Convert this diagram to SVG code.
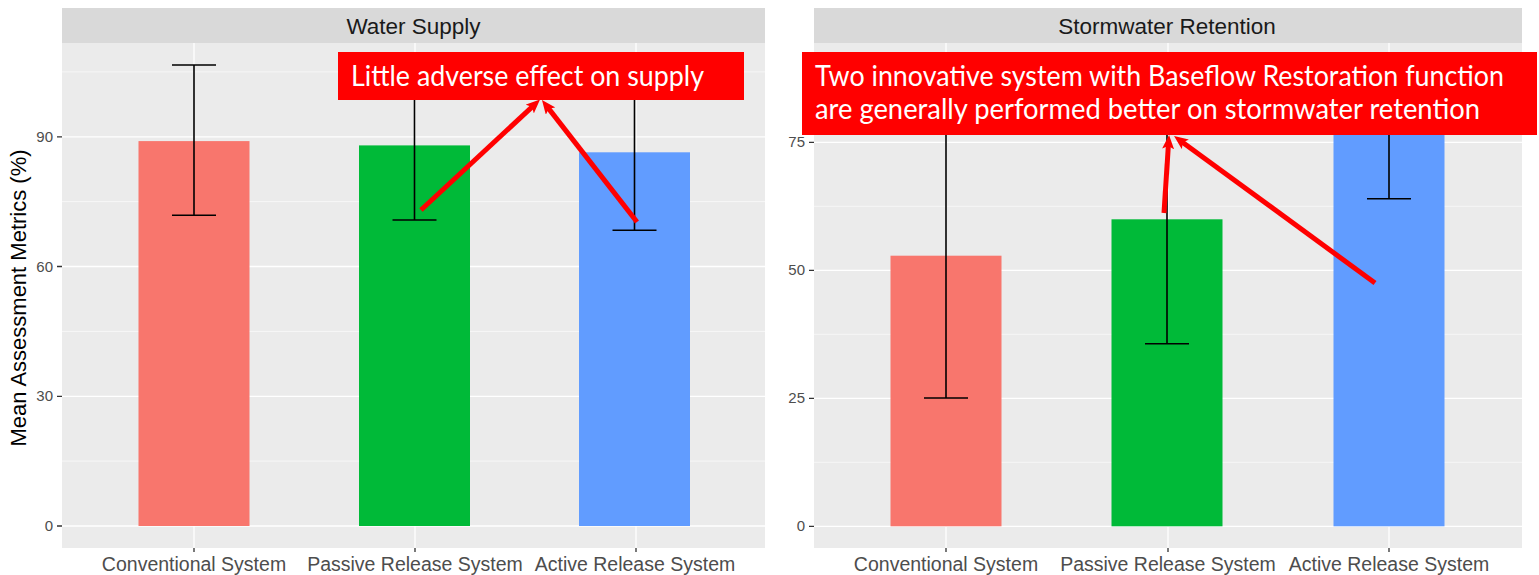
<svg xmlns="http://www.w3.org/2000/svg" width="1539" height="575" viewBox="0 0 1539 575">
<style>
.bg{fill:#EBEBEB}
.strip{fill:#D9D9D9}
.gmaj{stroke:#FFFFFF;stroke-width:1.3;fill:none}
.gmin{stroke:#FFFFFF;stroke-width:0.6;fill:none}
.tick{stroke:#333333;stroke-width:1.3}
.err{stroke:#000000;stroke-width:1.6;fill:none}
.ytxt{font-family:"Liberation Sans",Arial,sans-serif;font-size:15px;fill:#4D4D4D;text-anchor:end}
.xtxt{font-family:"Liberation Sans",Arial,sans-serif;font-size:19.5px;fill:#4D4D4D;text-anchor:middle}
.stxt{font-family:"Liberation Sans",Arial,sans-serif;font-size:22.5px;fill:#1A1A1A;text-anchor:middle}
.ctxt{font-family:Lato,"Open Sans",sans-serif;font-size:28px;fill:#FFFFFF}
.arrow{stroke:#FF0000;stroke-width:5;fill:none;marker-end:url(#ah)}
</style>
<defs>
<marker id="ah" viewBox="0 0 14 12" refX="4" refY="6" markerWidth="14" markerHeight="12" markerUnits="userSpaceOnUse" orient="auto">
<path d="M0,0 L14,6 L0,12 L3,6 z" fill="#FF0000"/>
</marker>
</defs>
<rect x="0" y="0" width="1539" height="575" fill="#FFFFFF"/>

<g id="yaxis-title">
<text transform="translate(26,298) rotate(-90)" font-family="'Liberation Sans',Arial,sans-serif" font-size="22" fill="#000000" text-anchor="middle">Mean Assessment Metrics (%)</text>
</g>

<g id="panel-water-supply">
<rect class="strip" x="62" y="8" width="703" height="35"/>
<text class="stxt" x="413.5" y="34">Water Supply</text>
<rect class="bg" x="62" y="43" width="703" height="505"/>
<path class="gmin" d="M62,461.1H765M62,331.4H765M62,201.6H765M62,71.9H765"/>
<path class="gmaj" d="M62,526H765M62,396.3H765M62,266.5H765M62,136.8H765M194,43V548M415,43V548M636,43V548"/>
<path class="tick" d="M57,526H62M57,396.3H62M57,266.5H62M57,136.8H62M194,548V552M415,548V552M636,548V552"/>
<text class="ytxt" x="53" y="531">0</text>
<text class="ytxt" x="53" y="401.3">30</text>
<text class="ytxt" x="53" y="271.5">60</text>
<text class="ytxt" x="53" y="141.8">90</text>
<text class="xtxt" x="194" y="571">Conventional System</text>
<text class="xtxt" x="415" y="571">Passive Release System</text>
<text class="xtxt" x="635" y="571">Active Release System</text>
</g>

<g id="bars-water-supply">
<rect id="ws-conventional" x="138.5" y="141.1" width="111" height="384.9" fill="#F8766D"/>
<rect id="ws-passive" x="359" y="145.4" width="111" height="380.6" fill="#00BA38"/>
<rect id="ws-active" x="579" y="152.3" width="111" height="373.7" fill="#619CFF"/>
<path class="err" d="M172,65H216M194,65V215.3M172,215.3H216"/>
<path class="err" d="M392.5,70.2H436.5M414.5,70.2V220M392.5,220H436.5"/>
<path class="err" d="M612.5,73.7H656.5M634.5,73.7V230.3M612.5,230.3H656.5"/>
</g>

<g id="panel-stormwater-retention">
<rect class="strip" x="814" y="8" width="708" height="35"/>
<text class="stxt" x="1167" y="34">Stormwater Retention</text>
<rect class="bg" x="814" y="43" width="708" height="505"/>
<path class="gmin" d="M814,462.3H1522M814,334.3H1522M814,206.3H1522M814,78.3H1522"/>
<path class="gmaj" d="M814,526.3H1522M814,398.3H1522M814,270.3H1522M814,142.3H1522M946,43V548M1168,43V548M1389,43V548"/>
<path class="tick" d="M809,526.3H814M809,398.3H814M809,270.3H814M809,142.3H814M946,548V552M1168,548V552M1389,548V552"/>
<text class="ytxt" x="805" y="531.3">0</text>
<text class="ytxt" x="805" y="403.3">25</text>
<text class="ytxt" x="805" y="275.3">50</text>
<text class="ytxt" x="805" y="147.3">75</text>
<text class="xtxt" x="946" y="571">Conventional System</text>
<text class="xtxt" x="1168" y="571">Passive Release System</text>
<text class="xtxt" x="1389" y="571">Active Release System</text>
</g>

<g id="bars-stormwater-retention">
<rect id="sr-conventional" x="890.5" y="255.7" width="111" height="270.6" fill="#F8766D"/>
<rect id="sr-passive" x="1111.5" y="219.3" width="111" height="307" fill="#00BA38"/>
<rect id="sr-active" x="1333.5" y="132" width="111" height="394.3" fill="#619CFF"/>
<path class="err" d="M924,113.6H968M946,113.6V398M924,398H968"/>
<path class="err" d="M1145,94.7H1189M1167,94.7V343.7M1145,343.7H1189"/>
<path class="err" d="M1367,66H1411M1389,66V198.7M1367,198.7H1411"/>
</g>

<g id="callout-supply">
<rect x="338" y="52" width="406" height="48" fill="#FF0000"/>
<text class="ctxt" x="351" y="86" textLength="353" lengthAdjust="spacingAndGlyphs">Little adverse effect on supply</text>
</g>

<g id="callout-retention">
<rect x="802" y="52" width="735" height="83" fill="#FF0000"/>
<text class="ctxt" x="815" y="86" textLength="689" lengthAdjust="spacingAndGlyphs">Two innovative system with Baseflow Restoration function</text>
<text class="ctxt" x="815" y="119" textLength="665" lengthAdjust="spacingAndGlyphs">are generally performed better on stormwater retention</text>
</g>

<g id="connectors">
<line class="arrow" x1="421" y1="210" x2="532.7" y2="106.3"/>
<line class="arrow" x1="637" y1="222" x2="548.1" y2="107.9"/>
<line class="arrow" x1="1164" y1="213" x2="1168.4" y2="145"/>
<line class="arrow" x1="1375" y1="283" x2="1182.1" y2="141.9"/>
</g>
</svg>
